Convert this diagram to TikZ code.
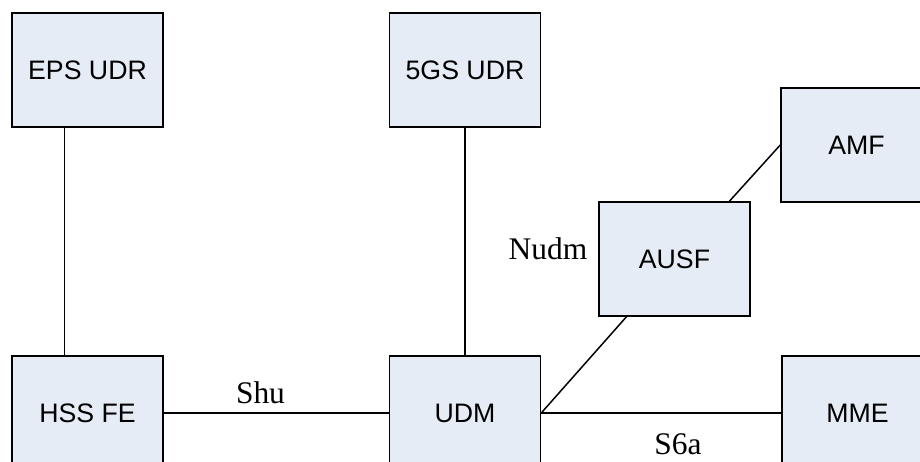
\documentclass[tikz,border=0pt]{standalone}
\usepackage{fontspec}
\setmainfont{Liberation Serif}
\newfontfamily\boxfont{Liberation Sans}
\usetikzlibrary{calc}
\definecolor{boxfill}{HTML}{E6ECF6}

\begin{document}
\begin{tikzpicture}[x=0.02cm, y=-0.02cm,
  nf/.style={draw, fill=boxfill, line width=0.85pt, inner sep=0pt,
    minimum width=3.02cm, minimum height=2.28cm,
    font=\boxfont\fontsize{15.2}{18}\selectfont},
  iface/.style={font=\fontsize{17.9}{21}\selectfont, inner sep=0pt},
  link/.style={line width=0.85pt}]

\useasboundingbox (0,0) rectangle (920,462);
\clip (0,0) rectangle (920,462);

\node[nf] (epsudr) at (87.5,70) {EPS UDR};
\node[nf] (gsudr) at (465,70) {5GS UDR};
\node[nf] (amf) at (856.5,145) {AMF};
\node[nf] (ausf) at (674.5,259) {AUSF};
\node[nf] (hssfe) at (87.5,413) {HSS FE};
\node[nf] (udm) at (465,413) {UDM};
\node[nf] (mme) at (857.5,413) {MME};

\draw[link] ($(epsudr.south west)!0.35!(epsudr.south east)$) -- ($(hssfe.north west)!0.35!(hssfe.north east)$);
\draw[link] (gsudr) -- (udm);
\draw[link] (hssfe) -- node[iface, pos=0.43, above=5pt] (shu) {Shu} (udm);
\draw[link] (udm.east) -- node[iface, pos=0.57, below=11.5pt] (s6a) {S6a} (mme.west);
\draw[link] (udm.east) -- ($(ausf.south west)!0.185!(ausf.south east)$);
\draw[link] ($(ausf.north west)!0.86!(ausf.north east)$) -- (amf.west);

\node[iface] (nudm) at (548,249) {Nudm};

\end{tikzpicture}
\end{document}
